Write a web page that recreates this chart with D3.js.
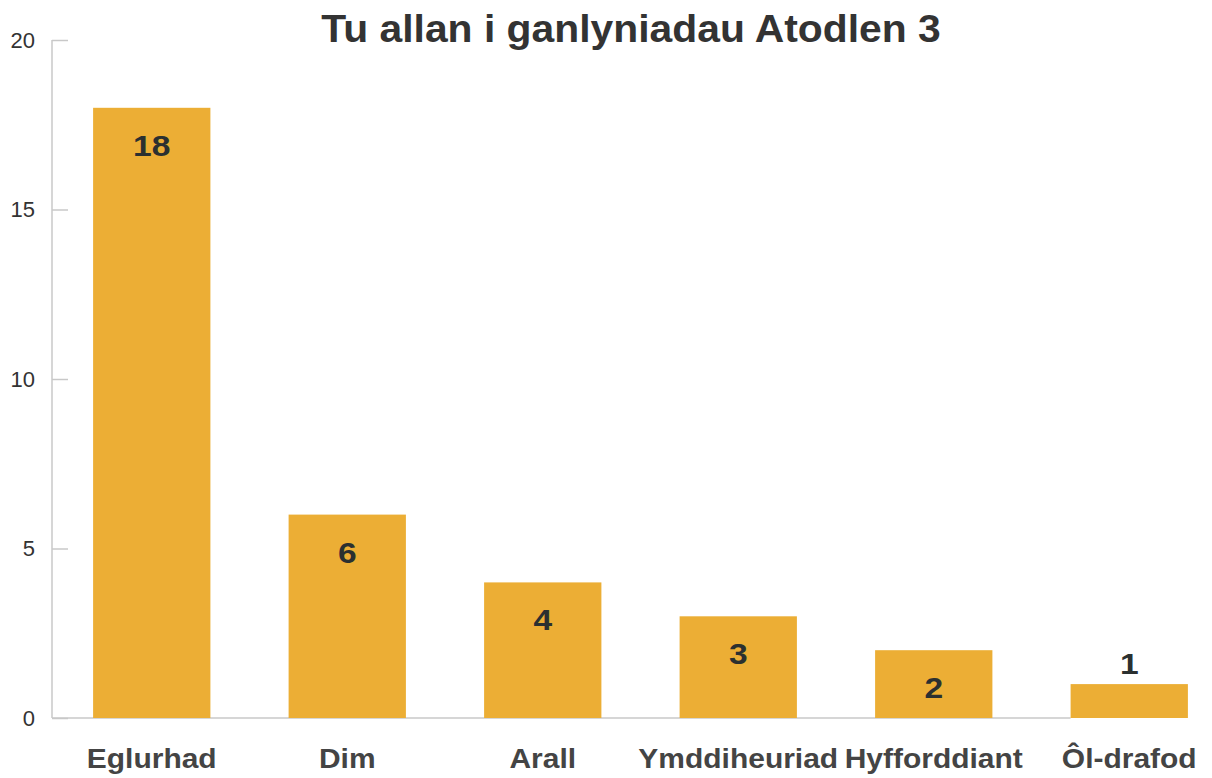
<!DOCTYPE html>
<html>
<head>
<meta charset="utf-8">
<script src="https://cdn.jsdelivr.net/npm/d3@7"></script>
<style>
  body { margin: 0; background: #fff; }
  svg { display: block; font-family: "Liberation Sans", Arial, sans-serif; }
</style>
</head>
<body>
<svg id="chart"></svg>
<script>
const categories = ["Eglurhad", "Dim", "Arall", "Ymddiheuriad", "Hyfforddiant", "Ôl-drafod"];
const values = [18, 6, 4, 3, 2, 1];
const yTicks = [0, 5, 10, 15, 20];
const title = "Tu allan i ganlyniadau Atodlen 3";

const width = 1212;
const height = 778;
const margin = { top: 40, right: -15, bottom: 60, left: 52 };

const svg = d3.select("#chart").attr("width", width).attr("height", height);

const x = d3.scaleBand()
  .domain(categories)
  .range([margin.left + 2, width - margin.right])
  .paddingInner(0.4)
  .paddingOuter(0.2);

const y = d3.scaleLinear()
  .domain([0, 20])
  .range([height - margin.bottom, margin.top]);

// y axis, ticks point inward
const yAxis = svg.append("g")
  .attr("transform", `translate(${margin.left},0)`)
  .call(d3.axisRight(y).tickValues(yTicks).tickSize(16).tickFormat(d3.format("d")));
yAxis.select(".domain").remove();
yAxis.selectAll(".tick line").attr("stroke", "#c8c8c8").attr("stroke-width", 1.5);
yAxis.selectAll(".tick text")
  .attr("x", -17)
  .attr("text-anchor", "end")
  .attr("font-size", 22)
  .attr("fill", "#333");
yAxis.append("line")
  .attr("y1", y(0)).attr("y2", y(20))
  .attr("stroke", "#c8c8c8").attr("stroke-width", 1.5);

// baseline
svg.append("line")
  .attr("x1", margin.left).attr("x2", x(categories[categories.length - 1]))
  .attr("y1", y(0)).attr("y2", y(0))
  .attr("stroke", "#c8c8c8").attr("stroke-width", 1.5);

// bars
svg.selectAll(".bar")
  .data(values)
  .join("rect")
  .attr("class", "bar")
  .attr("x", (d, i) => x(categories[i]))
  .attr("width", x.bandwidth())
  .attr("y", d => y(d))
  .attr("height", d => y(0) - y(d))
  .attr("fill", "#ecae35");

// the bold text in the original is a bit wider than Liberation Sans
const cx = c => x(c) + x.bandwidth() / 2;

// value labels
svg.selectAll(".label")
  .data(values)
  .join("text")
  .attr("class", "label")
  .attr("transform", (d, i) => {
    const ty = y(0) - y(d) > 45 ? y(d) + 48 : y(d) - 10;
    return `translate(${cx(categories[i])},${ty}) scale(1.12,1)`;
  })
  .attr("text-anchor", "middle")
  .attr("font-size", 30)
  .attr("font-weight", "bold")
  .attr("fill", "#2b3030")
  .text(d => d);

// category labels
svg.selectAll(".cat")
  .data(categories)
  .join("text")
  .attr("class", "cat")
  .attr("transform", d => `translate(${cx(d)},768) scale(1.11,1)`)
  .attr("text-anchor", "middle")
  .attr("font-size", 27)
  .attr("font-weight", "bold")
  .attr("fill", "#444")
  .text(d => d);

// title
svg.append("text")
  .attr("transform", "translate(631,42) scale(1.075,1)")
  .attr("text-anchor", "middle")
  .attr("font-size", 38)
  .attr("font-weight", "bold")
  .attr("fill", "#333")
  .text(title);
</script>
</body>
</html>
